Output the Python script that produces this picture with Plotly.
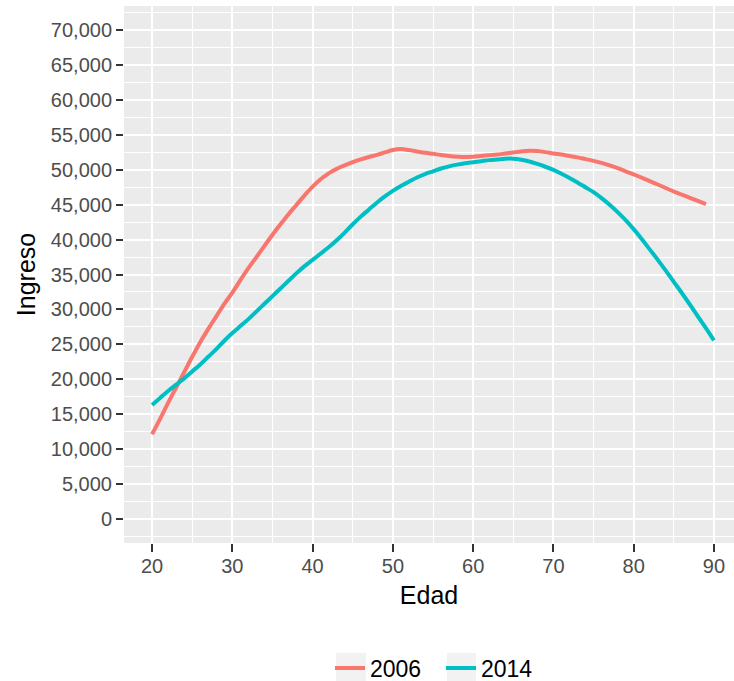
import plotly.graph_objects as go

# ---- data ----
edad_2006 = list(range(20, 90))
ingreso_2006 = [
    12100, 14300, 16600, 18800, 21000, 23200, 25300, 27200, 29000, 30800,
    32400, 34200, 35900, 37500, 39100, 40700, 42200, 43650, 45000, 46350,
    47600, 48650, 49500, 50150, 50650, 51100, 51500, 51850, 52150, 52500,
    52850, 53000, 52850, 52650, 52450, 52300, 52150, 52000, 51900, 51850,
    51900, 52000, 52100, 52200, 52350, 52500, 52650, 52750, 52700, 52550,
    52350, 52200, 52000, 51800, 51550, 51300, 51000, 50650, 50250, 49800,
    49350, 48900, 48400, 47900, 47400, 46900, 46450, 46000, 45550, 45100,
]
edad_2014 = list(range(20, 91))
ingreso_2014 = [
    16300, 17300, 18300, 19200, 20100, 21100, 22100, 23200, 24300, 25500,
    26600, 27600, 28600, 29700, 30800, 31900, 33000, 34100, 35200, 36200,
    37100, 38000, 38900, 39900, 41000, 42200, 43300, 44300, 45300, 46200,
    47000, 47700, 48300, 48900, 49400, 49800, 50200, 50500, 50750, 50950,
    51100, 51250, 51400, 51500, 51600, 51600, 51450, 51200, 50850, 50450,
    50000, 49450, 48850, 48200, 47500, 46800, 45950, 45000, 43950, 42800,
    41500, 40100, 38600, 37100, 35550, 33950, 32350, 30700, 29000, 27300,
    25550,
]
series_names = ["2006", "2014"]
series_colors = ["#F8766D", "#00BFC4"]
x_ticks = [20, 30, 40, 50, 60, 70, 80, 90]
y_ticks = list(range(0, 70001, 5000))

FONT = "Liberation Sans, Arial, sans-serif"

fig = go.Figure()
for name, xs, ys, col in zip(series_names, [edad_2006, edad_2014],
                             [ingreso_2006, ingreso_2014], series_colors):
    fig.add_trace(go.Scatter(x=xs, y=ys, mode="lines", name=name,
                             line=dict(color=col, width=4, shape="spline")))

# grey legend-key backgrounds (ggplot style), in paper coordinates
key_boxes = [(0.3475, 0.3967), (0.5295, 0.5770)]
for x0, x1 in key_boxes:
    fig.add_shape(type="rect", xref="paper", yref="paper",
                  x0=x0, x1=x1, y0=-0.2588, y1=-0.2048,
                  fillcolor="#F2F2F2", line=dict(width=0), layer="below")

fig.update_layout(
    width=734, height=681,
    margin=dict(l=124, r=0, t=6, b=138, autoexpand=False),
    paper_bgcolor="white",
    plot_bgcolor="#EBEBEB",
    font=dict(family=FONT, color="black"),
    showlegend=True,
    legend=dict(orientation="h", x=0.3377, xanchor="left", y=-0.233,
                yanchor="middle", font=dict(size=23, color="black"),
                bgcolor="rgba(0,0,0,0)", itemwidth=30,
                entrywidth=66, entrywidthmode="pixels"),
)
fig.update_xaxes(
    range=[16.5, 92.5], tickmode="array", tickvals=x_ticks,
    ticktext=[str(v) for v in x_ticks],
    showgrid=True, gridcolor="white", gridwidth=2,
    minor=dict(tick0=15, dtick=5, showgrid=True, gridcolor="white", gridwidth=1),
    zeroline=False, showline=False,
    ticks="outside", ticklen=8, tickwidth=2, tickcolor="#333333",
    ticklabelstandoff=-3,
    tickfont=dict(size=20, color="#4D4D4D", family=FONT),
    title=dict(text="Edad", font=dict(size=25, color="black", family=FONT), standoff=10),
    automargin=True,
)
fig.update_yaxes(
    range=[-3500, 73500], tickmode="array", tickvals=y_ticks,
    ticktext=[f"{v:,}" for v in y_ticks],
    showgrid=True, gridcolor="white", gridwidth=2,
    minor=dict(tick0=0, dtick=2500, showgrid=True, gridcolor="white", gridwidth=1),
    zeroline=False, showline=False,
    ticks="outside", ticklen=7, tickwidth=2, tickcolor="#333333",
    tickfont=dict(size=20, color="#4D4D4D", family=FONT),
    title=dict(text="Ingreso", font=dict(size=25, color="black", family=FONT), standoff=8),
    automargin=True,
)

fig.write_html(
    "out.html",
    config={"displayModeBar": False},
    post_script="document.body.style.margin='0';document.body.style.overflow='hidden';",
)
